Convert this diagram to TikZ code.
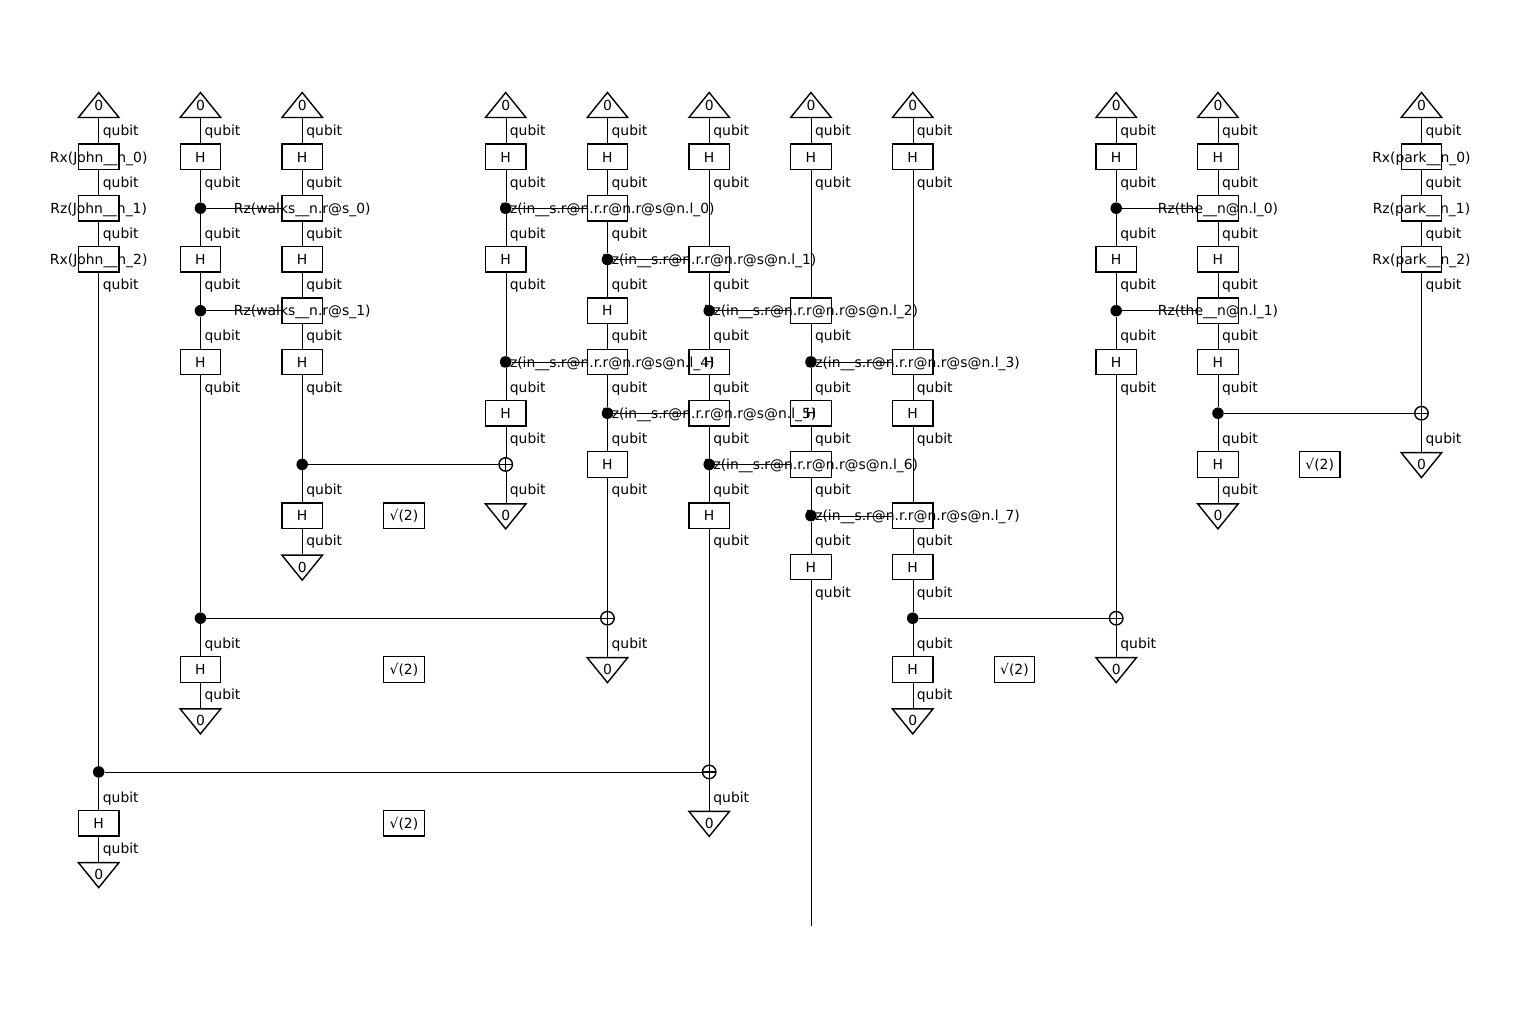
\documentclass[tikz,border=0pt]{standalone}
\usepackage{fontspec}
\setmainfont{DejaVu Sans}
\usetikzlibrary{shapes.geometric}
\pgfdeclarelayer{front}
\pgfsetlayers{main,front}
\tikzstyle{gate} = [rectangle, draw=black, minimum width=40.5pt, minimum height=25.5pt, inner sep=0pt, text height=10.2pt, text depth=0pt]
\tikzstyle{gatetext} = [inner sep=0pt, text height=10.2pt, text depth=0pt]
\tikzstyle{qlabel} = [anchor=west, inner sep=0pt, xshift=4pt, yshift=-0.7pt]
\tikzstyle{ctrl} = [circle, fill=black, minimum size=11.5pt, inner sep=0pt]
\tikzstyle{target} = [circle, draw=black, line width=1.4pt, minimum size=13.5pt, inner sep=0pt, path picture={\draw[line width=1.4pt] (path picture bounding box.north) -- (path picture bounding box.south) (path picture bounding box.west) -- (path picture bounding box.east);}]
\tikzstyle{tri} = [isosceles triangle, isosceles triangle stretches, draw=black, minimum width=40.5pt, minimum height=25pt, inner sep=0pt, anchor=lower side]
\tikzstyle{inq} = [tri, shape border rotate=90, yshift=-12.5pt]
\tikzstyle{outq} = [tri, shape border rotate=270, yshift=12.5pt]

\begin{document}
\begin{tikzpicture}[x=101.75pt, y=-51.25pt, line width=1.4pt, every node/.style={font=\fontsize{13.9}{16}\selectfont}]
  \useasboundingbox (-98.7pt,105.7pt) rectangle (1421.3pt,-913.3pt);

  % kets at the top
  \foreach \c in {0,1,2,4,5,6,7,8,10,11,13} {
    \node (n\c-0) [inq] at (\c,0) {};
    \node (z\c-0) [gatetext] at (\c,0) {0};
  }
  % bras at the bottom
  \foreach \c/\r in {0/15,1/12,2/9,4/8,5/11,6/14,8/12,10/11,11/8,13/7} {
    \node (n\c-\r) [outq] at (\c,\r) {};
    \node (z\c-\r) [gatetext] at (\c,\r) {0};
  }
  \coordinate (n7-16) at (7,16);

  % hadamards
  \foreach \c/\r in {1/1,1/3,1/5,1/11,2/1,2/3,2/5,2/8,4/1,4/3,4/6,5/1,5/4,5/7,6/1,6/5,6/8,7/1,7/6,7/9,8/1,8/6,8/9,8/11,10/1,10/3,10/5,11/1,11/3,11/5,11/7,0/14}
    \node (n\c-\r) [gate] at (\c,\r) {H};

  % scalars
  \foreach \c/\r in {3/8,3/11,3/14,9/11,12/7}
    \node (n\c-\r) [gate] at (\c,\r) {√(2)};

  % parametrised gates, the text is wider than the box
  \foreach \c/\r/\t in {0/1/Rx(John\_\_n\_0),0/2/Rz(John\_\_n\_1),0/3/Rx(John\_\_n\_2),
      13/1/Rx(park\_\_n\_0),13/2/Rz(park\_\_n\_1),13/3/Rx(park\_\_n\_2),
      2/2/Rz(walks\_\_n.r@s\_0),2/4/Rz(walks\_\_n.r@s\_1),
      11/2/Rz(the\_\_n@n.l\_0),11/4/Rz(the\_\_n@n.l\_1),
      5/2/Rz(in\_\_s.r@n.r.r@n.r@s@n.l\_0),6/3/Rz(in\_\_s.r@n.r.r@n.r@s@n.l\_1),
      7/4/Rz(in\_\_s.r@n.r.r@n.r@s@n.l\_2),8/5/Rz(in\_\_s.r@n.r.r@n.r@s@n.l\_3),
      5/5/Rz(in\_\_s.r@n.r.r@n.r@s@n.l\_4),6/6/Rz(in\_\_s.r@n.r.r@n.r@s@n.l\_5),
      7/7/Rz(in\_\_s.r@n.r.r@n.r@s@n.l\_6),8/8/Rz(in\_\_s.r@n.r.r@n.r@s@n.l\_7)} {
    \node (n\c-\r) [gate] at (\c,\r) {};
    \node (t\c-\r) [gatetext] at (\c,\r) {\t};
  }

  % controls and targets
  \begin{pgfonlayer}{front}
    \foreach \c/\r in {0/13,1/2,1/4,1/10,2/7,4/2,4/5,5/3,5/6,6/4,6/7,7/5,7/8,8/10,10/2,10/4,11/6}
      \node (n\c-\r) [ctrl] at (\c,\r) {};
    \foreach \c/\r in {4/7,5/10,6/13,10/10,13/6}
      \node (n\c-\r) [target] at (\c,\r) {};
  \end{pgfonlayer}

  % wires, one column at a time
  \foreach \c/\rows in {0/{1,2,3,13,14,15},1/{1,2,3,4,5,10,11,12},2/{1,2,3,4,5,7,8,9},
      4/{1,2,3,5,6,7,8},5/{1,2,3,4,5,6,7,10,11},6/{1,3,4,5,6,7,8,13,14},
      7/{1,4,5,6,7,8,9,16},8/{1,5,6,8,9,10,11,12},10/{1,2,3,4,5,10,11},
      11/{1,2,3,4,5,6,7,8},13/{1,2,3,6,7}} {
    \foreach \r [remember=\r as \last (initially 0)] in \rows {
      \draw (n\c-\last) -- (n\c-\r);
      \node (q\c-\last) [qlabel] at (\c,\last+0.5) {qubit};
    }
  }

  % links between columns
  \foreach \a/\b in {1-2/2-2,1-4/2-4,2-7/4-7,4-2/5-2,5-3/6-3,6-4/7-4,4-5/5-5,5-6/6-6,6-7/7-7,
      7-5/8-5,7-8/8-8,1-10/5-10,8-10/10-10,0-13/6-13,10-2/11-2,10-4/11-4,11-6/13-6}
    \draw (n\a) -- (n\b);
\end{tikzpicture}
\end{document}
